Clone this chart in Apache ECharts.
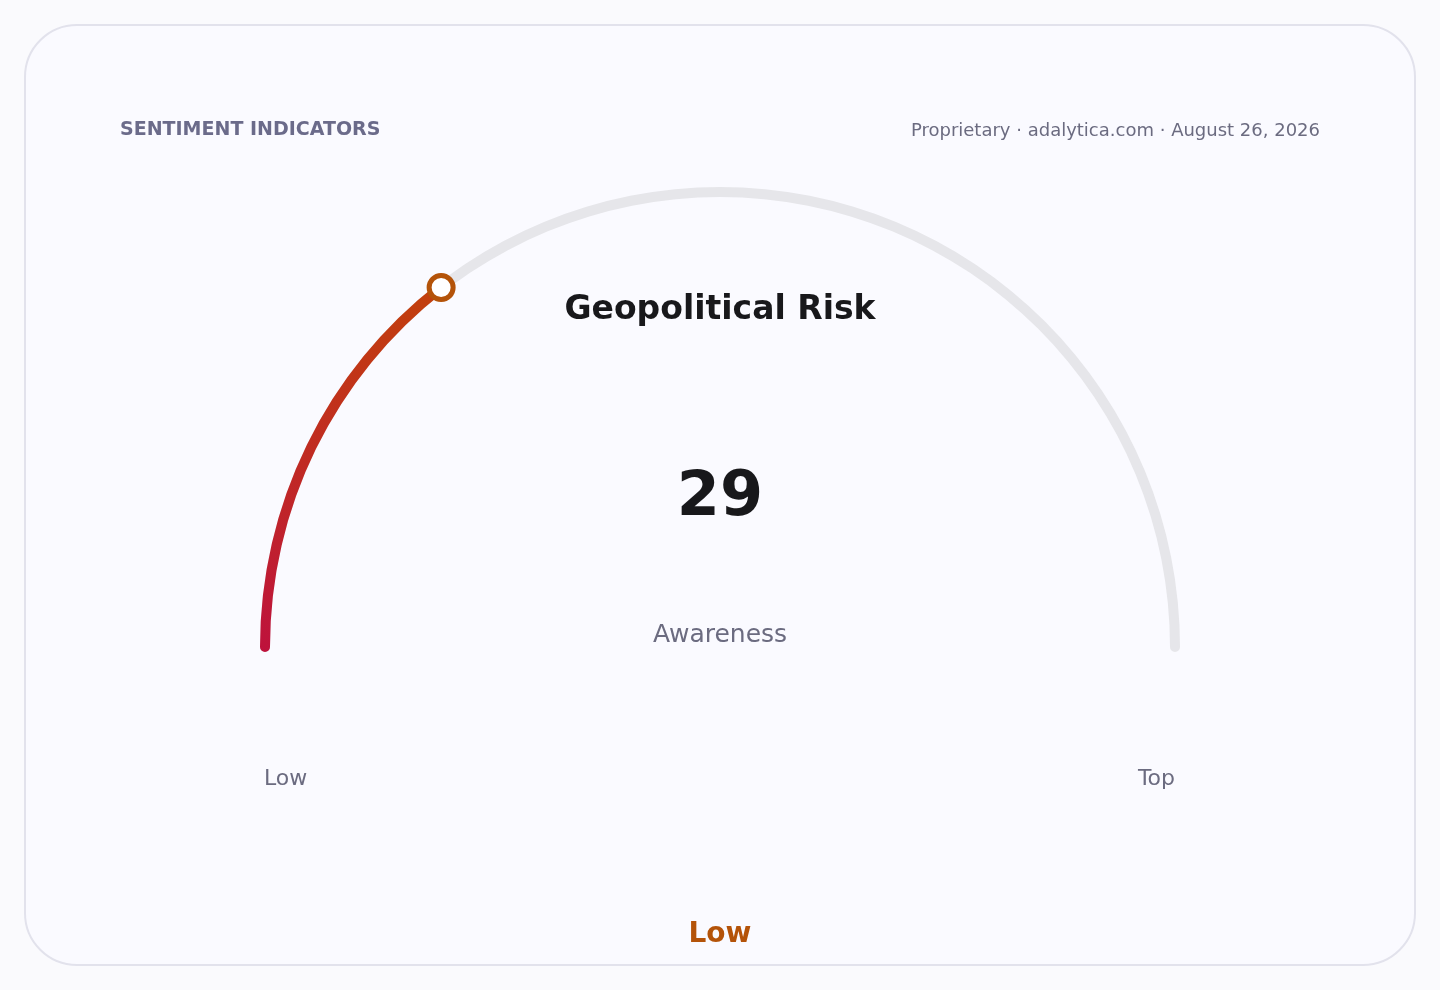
<!DOCTYPE html>
<html>
<head>
<meta charset="utf-8">
<script src="https://cdn.jsdelivr.net/npm/echarts@6/dist/echarts.min.js"></script>
<style>
html,body{margin:0;padding:0;background:#fafafd;}
#chart{width:1440px;height:990px;}
</style>
</head>
<body>
<div id="chart"></div>
<script>
const headerLeft = 'SENTIMENT INDICATORS';
const headerRight = 'Proprietary · adalytica.com · August 26, 2026';
const gaugeTitle = 'Geopolitical Risk';
const metricName = 'Awareness';
const metricValue = 29;
const scaleMin = 0;
const scaleMax = 100;
const endLabels = ['Low', 'Top'];
const verdict = 'Low';

const FONT = 'DejaVu Sans';
const chart = echarts.init(document.getElementById('chart'), null, {renderer: 'canvas'});
const cx = 720, cy = 647, R = 460;

chart.setOption({
  backgroundColor: '#fafafd',
  animation: false,
  graphic: [
    {type: 'rect', z: -10, shape: {x: 25, y: 25, width: 1390, height: 940, r: 52},
     style: {fill: '#fafaff', stroke: '#e2e2ec', lineWidth: 2}},
    {type: 'text', x: 120, y: 130, style: {text: headerLeft, font: 'bold 19px "DejaVu Sans"', fill: '#6b6b8a', textAlign: 'left', textVerticalAlign: 'middle'}},
    {type: 'text', x: 1320, y: 131, style: {text: headerRight, font: '18px "DejaVu Sans"', fill: '#6b6b80', textAlign: 'right', textVerticalAlign: 'middle'}},
    {type: 'text', x: 720, y: 310, style: {text: gaugeTitle, font: 'bold 33px "DejaVu Sans"', fill: '#18181b', textAlign: 'center', textVerticalAlign: 'middle'}},
    {type: 'text', x: 264, y: 779, style: {text: endLabels[0], font: '22px "DejaVu Sans"', fill: '#6b6b80', textAlign: 'left', textVerticalAlign: 'middle'}},
    {type: 'text', x: 1175, y: 779, style: {text: endLabels[1], font: '22px "DejaVu Sans"', fill: '#6b6b80', textAlign: 'right', textVerticalAlign: 'middle'}},
    {type: 'text', x: 720, y: 935, style: {text: verdict, font: 'bold 28px "DejaVu Sans"', fill: '#b45309', textAlign: 'center', textVerticalAlign: 'middle'}}
  ],
  polar: {center: [cx, cy], radius: R - 5},
  angleAxis: {type: 'value', min: 0, max: scaleMax * 2, startAngle: 180, clockwise: true, show: false},
  radiusAxis: {type: 'value', min: 0, max: 1, show: false},
  series: [
    {
      type: 'gauge',
      center: [cx, cy],
      radius: R,
      startAngle: 180,
      endAngle: 0,
      min: scaleMin,
      max: scaleMax,
      axisLine: {roundCap: true, lineStyle: {width: 10, color: [[1, '#e6e6ea']]}},
      progress: {
        show: true, width: 10, roundCap: true,
        itemStyle: {color: new echarts.graphic.LinearGradient(0, 1, 0, 0, [
          {offset: 0, color: '#be123c'}, {offset: 1, color: '#c2410c'}
        ])}
      },
      splitLine: {show: false},
      axisTick: {show: false},
      axisLabel: {show: false},
      pointer: {show: false},
      anchor: {show: false},
      title: {show: true, offsetCenter: [0, -12], fontFamily: FONT, fontSize: 25, color: '#6b6b80'},
      detail: {show: true, offsetCenter: [0, -148], fontFamily: FONT, fontSize: 62, fontWeight: 'bold', color: '#18181b', formatter: '{value}'},
      data: [{value: metricValue, name: metricName}]
    },
    {
      type: 'scatter',
      coordinateSystem: 'polar',
      symbol: 'circle',
      symbolSize: 24,
      z: 10,
      itemStyle: {color: '#ffffff', borderColor: '#b45309', borderWidth: 5, opacity: 1},
      data: [[1, metricValue]]
    }
  ]
});
</script>
</body>
</html>
